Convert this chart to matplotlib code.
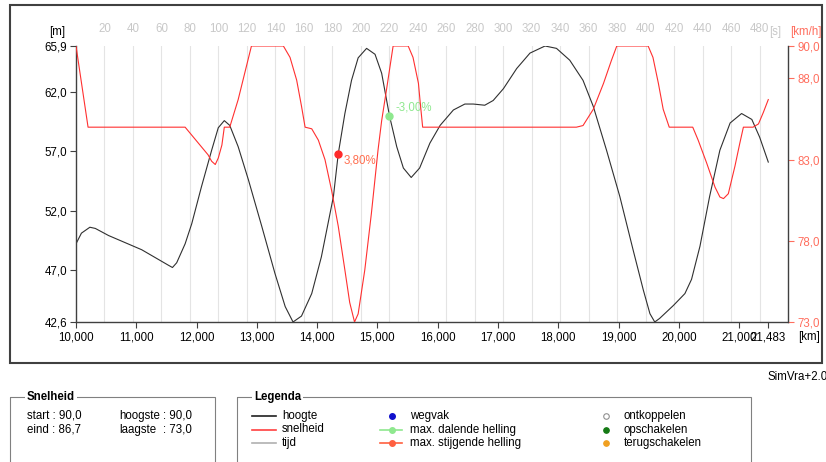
import matplotlib.pyplot as plt
from matplotlib.patches import Rectangle

plt.rcParams['font.family'] = ['Liberation Sans', 'DejaVu Sans']

# ------------------------------------------------------------
# Data
# ------------------------------------------------------------
hoogte_km = [10.0, 10.09, 10.23, 10.32, 10.54, 11.09, 11.53, 11.60, 11.67, 11.81,
             11.92, 12.08, 12.25, 12.36, 12.46, 12.55, 12.69, 12.86, 13.08, 13.30,
             13.47, 13.60, 13.74, 13.91, 14.07, 14.27, 14.35, 14.46, 14.57, 14.68,
             14.82, 14.96, 15.07, 15.20, 15.32, 15.43, 15.56, 15.70, 15.87, 16.04,
             16.26, 16.45, 16.59, 16.78, 16.92, 17.09, 17.31, 17.53, 17.78, 17.97,
             18.19, 18.41, 18.58, 18.80, 19.02, 19.24, 19.41, 19.52, 19.60, 19.68,
             19.91, 20.10, 20.21, 20.35, 20.51, 20.68, 20.85, 21.04, 21.21, 21.34,
             21.483]
hoogte_m = [49.2, 50.1, 50.6, 50.5, 49.9, 48.7, 47.4, 47.2, 47.6, 49.2,
            50.9, 54.0, 57.1, 59.0, 59.6, 59.2, 57.4, 54.6, 50.7, 46.7,
            43.9, 42.6, 43.1, 45.0, 48.1, 53.2, 56.8, 60.2, 63.0, 64.9,
            65.7, 65.2, 63.6, 60.0, 57.4, 55.6, 54.8, 55.6, 57.7, 59.2,
            60.5, 61.0, 61.0, 60.9, 61.3, 62.3, 64.0, 65.3, 65.9, 65.7,
            64.7, 63.0, 60.8, 57.1, 53.2, 48.7, 45.3, 43.3, 42.6, 42.9,
            44.0, 45.0, 46.2, 49.0, 53.2, 57.1, 59.4, 60.2, 59.7, 58.2,
            56.1]

snelheid_km = [10.0, 10.20, 11.81, 12.19, 12.25, 12.31, 12.36, 12.42, 12.46, 12.55,
               12.69, 12.91, 13.44, 13.55, 13.66, 13.74, 13.80, 13.91, 14.02, 14.13,
               14.24, 14.35, 14.46, 14.54, 14.62, 14.68, 14.79, 14.90, 15.01, 15.07,
               15.15, 15.26, 15.51, 15.59, 15.68, 15.71, 15.75, 18.30, 18.41, 18.58,
               18.75, 18.88, 18.97, 19.49, 19.57, 19.66, 19.74, 19.84, 20.23, 20.32,
               20.46, 20.60, 20.68, 20.74, 20.82, 20.93, 21.01, 21.07, 21.23, 21.32,
               21.40, 21.483]
snelheid_kmh = [90.0, 85.0, 85.0, 83.3, 82.9, 82.7, 83.1, 83.9, 85.0, 85.0,
                86.7, 90.0, 90.0, 89.3, 87.9, 86.3, 85.0, 84.9, 84.2, 83.0,
                81.1, 78.9, 76.2, 74.2, 73.0, 73.5, 76.2, 79.7, 83.6, 85.4,
                87.3, 90.0, 90.0, 89.3, 87.7, 86.5, 85.0, 85.0, 85.1, 86.1,
                87.7, 89.1, 90.0, 90.0, 89.3, 87.7, 86.1, 85.0, 85.0, 84.2,
                82.8, 81.3, 80.7, 80.6, 80.9, 82.6, 84.0, 85.0, 85.0, 85.2,
                85.9, 86.7]

km_ticks = [10, 11, 12, 13, 14, 15, 16, 17, 18, 19, 20, 21, 21.483]
tijd_ticks = list(range(20, 481, 20))
hoogte_ticks = [42.6, 47.0, 52.0, 57.0, 62.0, 65.9]
snelheid_ticks = [73.0, 78.0, 83.0, 88.0, 90.0]

helling_km = [14.35, 15.20]
helling_m = [56.8, 60.0]
helling_txt = ['3,80%', '-3,00%']
helling_dot = ['#ff2a2a', '#8fe88f']
helling_col = ['#ff6f50', '#8fe88f']

samenvatting = [('start : 90,0', 'hoogste', ': 90,0'),
                ('eind : 86,7', 'laagste', ': 73,0')]
legenda_lijnen = [('hoogte', '#202020'), ('snelheid', '#ff4040'), ('tijd', '#b0b0b0')]
legenda_helling = [('wegvak', '#1010cc', False),
                   ('max. dalende helling', '#8fe88f', True),
                   ('max. stijgende helling', '#ff6040', True)]
legenda_schakel = [('ontkoppelen', 'white', '#909090'),
                   ('opschakelen', '#157a15', '#157a15'),
                   ('terugschakelen', '#f0a020', '#f0a020')]

RED = '#ff6e5e'
FS = 8.3
W, H = 826, 462


def rect(x0, y0, x1, y1):
    return [x0 / W, 1 - y1 / H, (x1 - x0) / W, (y1 - y0) / H]


def nl(v, d=1):
    return f'{v:.{d}f}'.replace('.', ',')


fig = plt.figure(figsize=(W / 100, H / 100), dpi=100)

# overlay in pixel coordinates for frames and panels
ov = fig.add_axes([0, 0, 1, 1])
ov.set_xlim(0, W)
ov.set_ylim(H, 0)
ov.axis('off')
ov.set_zorder(-1)

ov.add_patch(Rectangle((10, 5), 812, 358, fill=False, edgecolor='#404040', lw=1.5))

# time axis (top labels + grid)
plot_rect = rect(76, 46, 788, 322)
at = fig.add_axes(plot_rect)
at.set_xlim(0, 500)
at.set_xticks(tijd_ticks)
at.set_xticklabels([str(t) for t in tijd_ticks], color='#c8c8c8', fontsize=FS)
at.xaxis.set_ticks_position('top')
at.tick_params(axis='x', length=0, pad=8)
at.set_yticks([])
at.grid(axis='x', color='#e4e4e4', lw=0.8)
for s in at.spines.values():
    s.set_visible(False)

# height axis
ax = fig.add_axes(plot_rect)
ax.patch.set_visible(False)
ax.plot(hoogte_km, hoogte_m, color='#303030', lw=0.8)
ax.set_xlim(10, 21.81)
ax.set_ylim(42.6, 65.9)
ax.set_xticks(km_ticks)
ax.set_xticklabels([nl(k, 3) for k in km_ticks], fontsize=FS)
ax.set_yticks(hoogte_ticks)
ax.set_yticklabels([nl(v) for v in hoogte_ticks], fontsize=FS)
ax.tick_params(length=4.5, width=0.8, color='#404040', pad=2)
ax.spines['top'].set_visible(False)
ax.spines['right'].set_visible(False)
for s in ['left', 'bottom']:
    ax.spines[s].set_color('#404040')
    ax.spines[s].set_linewidth(1.0)

for k, m, t, dc, tc in zip(helling_km, helling_m, helling_txt, helling_dot, helling_col):
    ax.plot(k, m, 'o', color=dc, ms=5, zorder=5)
    dy = -5 if t.startswith('3') else 6
    ax.annotate(t, (k, m), xytext=(4, dy), textcoords='offset points',
                color=tc, fontsize=FS, va='center', ha='left')

# speed axis
ax2 = ax.twinx()
ax2.plot(snelheid_km, snelheid_kmh, color='#ff3030', lw=0.8)
ax2.set_ylim(73, 90)
ax2.set_yticks(snelheid_ticks)
ax2.set_yticklabels([nl(v) for v in snelheid_ticks], fontsize=FS, color=RED)
ax2.tick_params(axis='y', length=4.5, width=0.8, color=RED, pad=2)
for s in ['top', 'left', 'bottom']:
    ax2.spines[s].set_visible(False)
ax2.spines['right'].set_color('#404040')
ax2.spines['right'].set_linewidth(1.0)

# axis unit labels
ov.text(57, 32, '[m]', fontsize=FS, ha='center', va='center')
ov.text(806, 32, '[km/h]', fontsize=FS, ha='center', va='center', color=RED)
ov.text(769, 32, '[s]', fontsize=FS, ha='left', va='center', color='#c8c8c8')
ov.text(798, 337, '[km]', fontsize=FS, ha='left', va='center')
ov.text(768, 377, 'SimVra+2.0', fontsize=FS, ha='left', va='center')

# Snelheid panel
ov.add_patch(Rectangle((10, 397), 205, 90, fill=False, edgecolor='#808080', lw=0.8))
ov.text(27, 397, 'Snelheid', fontsize=FS, fontweight='bold', va='center',
        bbox=dict(facecolor='white', edgecolor='none', pad=1.5))
for i, (a, b, c) in enumerate(samenvatting):
    y = 416 + i * 14
    ov.text(27, y, a, fontsize=FS, va='center')
    ov.text(119, y, b, fontsize=FS, va='center')
    ov.text(163, y, c, fontsize=FS, va='center')

# Legenda panel
ov.add_patch(Rectangle((237, 397), 514, 90, fill=False, edgecolor='#808080', lw=0.8))
ov.text(254, 397, 'Legenda', fontsize=FS, fontweight='bold', va='center',
        bbox=dict(facecolor='white', edgecolor='none', pad=1.5))
for i, (lab, col) in enumerate(legenda_lijnen):
    y = 416 + i * 13.5
    ov.plot([252, 276], [y, y], color=col, lw=1.2)
    ov.text(282, y, lab, fontsize=FS, va='center')
for i, (lab, col, lijn) in enumerate(legenda_helling):
    y = 416 + i * 13.5
    if lijn:
        ov.plot([380, 402], [y, y], color=col, lw=1.2)
    ov.plot(392, y, 'o', color=col, ms=4)
    ov.text(410, y, lab, fontsize=FS, va='center')
for i, (lab, fc, ec) in enumerate(legenda_schakel):
    y = 416 + i * 13.5
    ov.plot(606, y, 'o', markerfacecolor=fc, markeredgecolor=ec, ms=4, mew=0.8)
    ov.text(624, y, lab, fontsize=FS, va='center')

fig.savefig('out.png', dpi=100)
